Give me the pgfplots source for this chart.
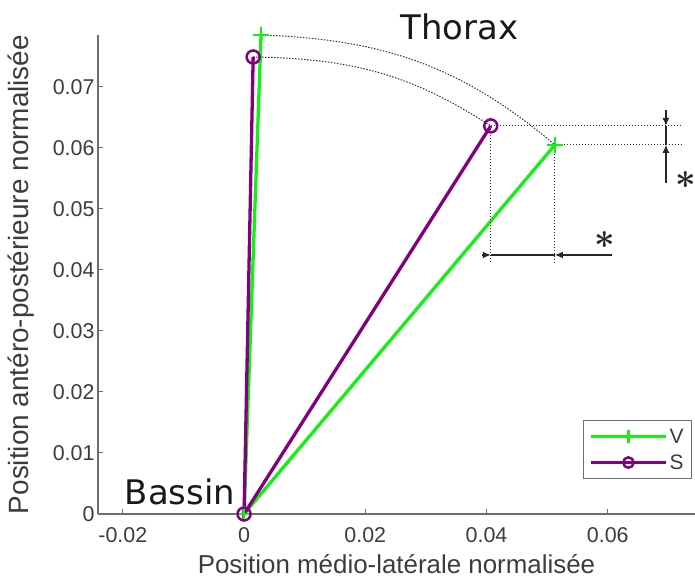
\documentclass[border=0pt]{standalone}
\usepackage{fontspec}
\setmainfont{Liberation Sans}
\newfontfamily\dejavu{DejaVu Sans}
\usepackage{pgfplots}
\pgfplotsset{compat=1.18}
\usetikzlibrary{arrows.meta}
\definecolor{vgreen}{RGB}{20,240,20}
\definecolor{spurple}{RGB}{128,0,128}
\definecolor{axgray}{RGB}{110,110,110}
\definecolor{txtgray}{RGB}{60,60,60}
\begin{document}
\begin{tikzpicture}
\begin{axis}[
  at={(0,0)}, anchor=south west,
  scale only axis, width=597bp, height=479bp,
  xmin=-0.0241, xmax=0.0744, ymin=0, ymax=0.0785,
  clip=false,
  scaled ticks=false,
  axis x line=bottom, axis y line=left,
  axis line style={-, draw=axgray, line width=1.2bp},
  tick style={draw=axgray, line width=1bp},
  tick align=inside, major tick length=5bp,
  xtick={-0.02,0,0.02,0.04,0.06},
  xticklabels={-0.02,0,0.02,0.04,0.06},
  ytick={0,0.01,0.02,0.03,0.04,0.05,0.06,0.07},
  yticklabels={0,0.01,0.02,0.03,0.04,0.05,0.06,0.07},
  ticklabel style={font=\fontsize{21.5}{21.5}\selectfont, text=txtgray},
  xticklabel style={yshift=-10bp},
  xlabel={Position médio-latérale normalisée},
  ylabel={Position antéro-postérieure normalisée},
  xlabel style={font=\fontsize{26}{26}\selectfont, text=txtgray, yshift=-5bp},
  ylabel style={font=\fontsize{28}{28}\selectfont, text=txtgray, yshift=12bp},
  legend style={at={(0.995,0.196)}, anchor=north east, draw=axgray, fill=white,
    line width=1bp, font=\fontsize{21}{21}\selectfont, text=txtgray,
    inner xsep=6bp, inner ysep=6bp, row sep=6bp},
  legend cell align=left,
  legend image code/.code={%
    \draw[#1] (0bp,0bp) -- (75bp,0bp);
    \draw[#1, every mark/.append style={scale=0.8}] plot coordinates {(37.5bp,0bp)};
  },
]
\addplot[vgreen, line width=3.3bp, mark=+, mark size=8bp, mark options={line width=2.5bp}]
  coordinates {(0.0028,0.0785) (0,0) (0.0513,0.0605)};
\addlegendentry{V}
\addplot[spurple, line width=3.3bp, mark=o, mark size=6.5bp, mark options={line width=2.5bp}]
  coordinates {(0.0015,0.0749) (0,0) (0.0407,0.0636)};
\addlegendentry{S}
% dotted annotations
\draw[black!80, line width=1bp, dash pattern=on 1.5bp off 1.5bp]
  (axis cs:0.0028,0.0785) to[out=-2,in=140] (axis cs:0.0513,0.0605);
\draw[black!80, line width=1bp, dash pattern=on 1.5bp off 1.5bp]
  (axis cs:0.0015,0.0749) to[out=-1,in=147] (axis cs:0.0407,0.0636);
\draw[black!80, line width=1bp, dash pattern=on 1.5bp off 1.5bp]
  (axis cs:0.0407,0.0636) -- (axis cs:0.0723,0.0636);
\draw[black!80, line width=1bp, dash pattern=on 1.5bp off 1.5bp]
  (axis cs:0.0513,0.0605) -- (axis cs:0.0723,0.0605);
\draw[black!80, line width=1bp, dash pattern=on 1.5bp off 1.5bp]
  (axis cs:0.0407,0.0636) -- (axis cs:0.0407,0.0413);
\draw[black!80, line width=1bp, dash pattern=on 1.5bp off 1.5bp]
  (axis cs:0.0513,0.0605) -- (axis cs:0.0513,0.0413);
% dimension arrows
\draw[black!85, line width=1.2bp, -{Latex[length=8bp,width=7bp]}]
  (axis cs:0.0392,0.04245) -- (axis cs:0.0407,0.04245);
\draw[black!85, line width=1.2bp, -{Latex[length=8bp,width=7bp]}]
  (axis cs:0.0607,0.04245) -- (axis cs:0.0513,0.04245);
\draw[black!85, line width=1.2bp] (axis cs:0.0407,0.04245) -- (axis cs:0.0513,0.04245);
\draw[black!85, line width=1.2bp, -{Latex[length=8bp,width=7bp]}]
  (axis cs:0.0696,0.0662) -- (axis cs:0.0696,0.0636);
\draw[black!85, line width=1.2bp, -{Latex[length=8bp,width=7bp]}]
  (axis cs:0.0696,0.05425) -- (axis cs:0.0696,0.0605);
\draw[black!85, line width=1.2bp] (axis cs:0.0696,0.0636) -- (axis cs:0.0696,0.0605);
\node[black!85] at (axis cs:0.0596,0.0449) {\scalebox{3.6}{\boldmath$\ast$}};
\node[black!85] at (axis cs:0.0729,0.0547) {\scalebox{3.6}{\boldmath$\ast$}};
\node[font=\dejavu\fontsize{34}{34}\selectfont, text=black!90] at (axis cs:0.0355,0.0798) {Thorax};
\node[font=\dejavu\fontsize{34}{34}\selectfont, text=black!90] at (axis cs:-0.01057,0.0036) {Bassin};
\end{axis}
\pgfresetboundingbox
\path[use as bounding box] (-98bp,-64bp) rectangle (597bp,514bp);
\end{tikzpicture}
\end{document}
